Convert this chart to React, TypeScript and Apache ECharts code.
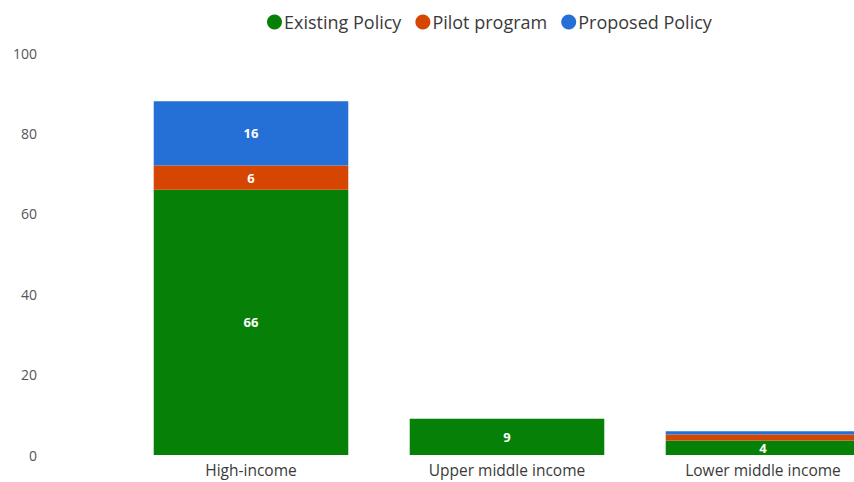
import React, { useEffect, useRef } from "react";
import * as echarts from "echarts";

const categories = ["High-income", "Upper middle income", "Lower middle income"];
const existingPolicy = [66, 9, 3.6];
const pilotProgram = [6, 0, 1.5];
const proposedPolicy = [16, 0, 0.8];
const yTicks = [0, 20, 40, 60, 80, 100];

const FONT = "'Open Sans', 'Noto Sans', sans-serif";

export default function App() {
  const ref = useRef<HTMLDivElement>(null);
  useEffect(() => {
    const chart = echarts.init(ref.current!, null, { renderer: "svg" });
    const label = {
      show: true,
      position: "inside",
      color: "#ffffff",
      fontWeight: "bold",
      fontSize: 13,
      fontFamily: FONT,
      formatter: (p: any) => (p.value >= 3 ? String(Math.round(p.value)) : ""),
    };
    const mk = (name: string, data: number[], color: string) => ({
      name,
      type: "bar",
      stack: "total",
      data: data.map((v) => (v === 0 ? null : v)),
      barCategoryGap: "24%",
      itemStyle: { color },
      label,
      emphasis: { disabled: true },
    });
    chart.setOption({
      animation: false,
      legend: {
        top: 8,
        left: 262,
        icon: "circle",
        itemWidth: 15,
        itemHeight: 15,
        itemGap: 14,
        textStyle: { fontSize: 18, color: "#3a3a3a", fontFamily: FONT, padding: [0, 0, 0, -3] },
        data: ["Existing Policy", "Pilot program", "Proposed Policy"],
      },
      grid: { left: 123, right: 0, top: 53, bottom: 27 },
      xAxis: {
        type: "category",
        data: categories,
        axisLine: { show: false },
        axisTick: { show: false },
        axisLabel: { color: "#3a3a3a", fontSize: 15.5, fontFamily: FONT, margin: 7 },
      },
      yAxis: {
        type: "value",
        min: yTicks[0],
        max: yTicks[yTicks.length - 1],
        interval: 20,
        splitLine: { show: false },
        axisLine: { show: false },
        axisTick: { show: false },
        axisLabel: { color: "#555555", fontSize: 14, fontFamily: FONT, margin: 86 },
      },
      series: [
        mk("Existing Policy", existingPolicy, "#078007"),
        mk("Pilot program", pilotProgram, "#D64501"),
        mk("Proposed Policy", proposedPolicy, "#2570D6"),
      ],
    });
    return () => chart.dispose();
  }, []);
  return (
    <div
      style={{
        position: "absolute",
        left: 0,
        top: 0,
        width: 854,
        height: 482,
        overflow: "hidden",
        background: "#fff",
      }}
    >
      <div ref={ref} style={{ width: 891, height: 482 }} />
    </div>
  );
}
